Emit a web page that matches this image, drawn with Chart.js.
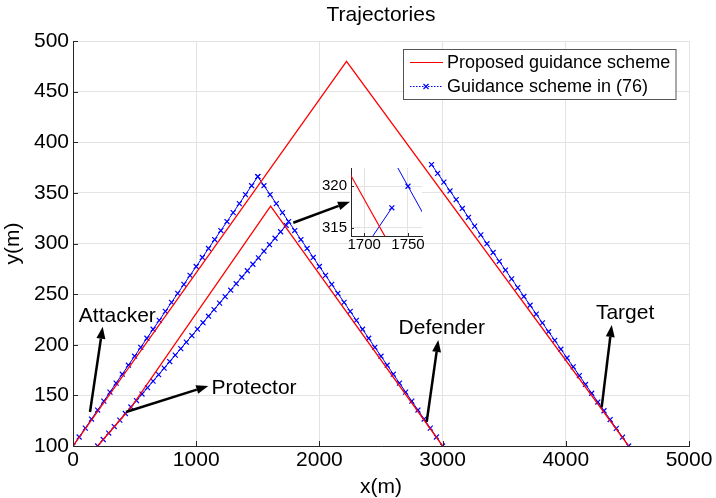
<!DOCTYPE html>
<html>
<head>
<meta charset="utf-8">
<script src="https://cdn.jsdelivr.net/npm/chart.js@4.4.0/dist/chart.umd.min.js"></script>
<style>
html, body { margin: 0; padding: 0; background: #fff; }
#wrap { position: relative; width: 716px; height: 498px; }
#main { position: absolute; left: 0; top: 0; }
#inset { position: absolute; left: 300px; top: 155px; }
</style>
</head>
<body>
<div id="wrap">
<canvas id="main" width="716" height="498"></canvas>
<canvas id="inset" width="130" height="100"></canvas>
</div>
<script>
const FONT = "'Liberation Sans', Arial, sans-serif";

// tick labels
const xTicks = [0, 1000, 2000, 3000, 4000, 5000];
const yTicks = [100, 150, 200, 250, 300, 350, 400, 450, 500];
const insetXTicks = [1700, 1750];
const insetYTicks = [315, 320];

// proposed guidance scheme (red)
const redOuterX = [0, 2220, 4510];
const redOuterY = [100, 480, 100];
const redInnerX = [200, 470, 1604, 3000];
const redInnerY = [100, 138, 337, 100];

// guidance scheme in (76) (blue, x markers)
const attackerX = [0, 50, 100, 150, 200, 250, 300, 350, 400, 450, 500, 550, 600, 650, 700, 750, 800, 850, 900, 950, 1000, 1050, 1100, 1150, 1200, 1250, 1300, 1350, 1400, 1450, 1500];
const attackerY = [100, 108.9, 117.7, 126.6, 135.5, 144.3, 153.2, 162.1, 170.9, 179.8, 188.7, 197.5, 206.4, 215.3, 224.1, 233, 241.9, 250.7, 259.6, 268.5, 277.3, 286.2, 295.1, 303.9, 312.8, 321.7, 330.5, 339.4, 348.3, 357.1, 366];
const defenderX = [1500, 1550, 1600, 1650, 1700, 1750, 1800, 1850, 1900, 1950, 2000, 2050, 2100, 2150, 2200, 2250, 2300, 2350, 2400, 2450, 2500, 2550, 2600, 2650, 2700, 2750, 2800, 2850, 2900, 2950, 3000];
const defenderY = [366, 357.1, 348.3, 339.4, 330.5, 321.7, 312.8, 303.9, 295.1, 286.2, 277.3, 268.5, 259.6, 250.7, 241.9, 233, 224.1, 215.3, 206.4, 197.5, 188.7, 179.8, 170.9, 162.1, 153.2, 144.3, 135.5, 126.6, 117.7, 108.9, 100];
const protectorX = [200, 245, 290, 335, 380, 425, 470, 515, 560, 605, 650, 695, 740, 785, 830, 875, 920, 965, 1010, 1055, 1100, 1145, 1190, 1235, 1280, 1325, 1370, 1415, 1460, 1505, 1550, 1595, 1640, 1685, 1730];
const protectorY = [100, 106.4, 112.8, 119.2, 125.6, 132.1, 138.5, 144.9, 151.3, 157.7, 164.1, 170.5, 176.9, 183.4, 189.8, 196.2, 202.6, 209, 215.4, 221.8, 228.2, 234.7, 241.1, 247.5, 253.9, 260.3, 266.7, 273.1, 279.5, 285.9, 292.4, 298.8, 305.2, 311.6, 318];
const targetX = [2910, 2960, 3010, 3060, 3110, 3160, 3210, 3260, 3310, 3360, 3410, 3460, 3510, 3560, 3610, 3660, 3710, 3760, 3810, 3860, 3910, 3960, 4010, 4060, 4110, 4160, 4210, 4260, 4310, 4360, 4410, 4460, 4510];
const targetY = [378, 369.3, 360.6, 351.9, 343.3, 334.6, 325.9, 317.2, 308.5, 299.8, 291.1, 282.4, 273.8, 265.1, 256.4, 247.7, 239, 230.3, 221.6, 212.9, 204.3, 195.6, 186.9, 178.2, 169.5, 160.8, 152.1, 143.4, 134.8, 126.1, 117.4, 108.7, 100];

// zoomed inset
const insetRedX = [1650, 1760];
const insetRedY = [327.9, 307.1];
const insetProtectorX = [1687, 1731.6];
const insetProtectorY = [310.4, 317.4];
const insetDefenderX = [1705, 1750, 1795];
const insetDefenderY = [328.6, 320, 311.4];

// annotations (data units)
const labels = [
    { text: "Attacker", x: 360, y: 228.4 },
    { text: "Protector", x: 1469, y: 157.3 },
    { text: "Defender", x: 2993, y: 216.2 },
    { text: "Target", x: 4481, y: 231 }
];
const arrows = [
    { from: [138, 133.6], to: [241, 217.8] },
    { from: [430, 133.6], to: [1098, 159.3] },
    { from: [2871, 124], to: [2965, 204.7] },
    { from: [4291, 138.2], to: [4373, 219.5] },
    { from: [1788, 320.5], to: [2248, 341.3] }
];

const RED = "#ff0000";
const BLUE = "#0000ff";

function pts(xs, ys) {
    return xs.map((x, i) => ({ x: x, y: ys[i] }));
}

function redSet(xs, ys, w) {
    return { data: pts(xs, ys), showLine: true, borderColor: RED, borderWidth: w, pointRadius: 0 };
}

function blueSet(xs, ys, w, r) {
    return {
        data: pts(xs, ys), showLine: true, borderColor: BLUE, borderWidth: w,
        pointStyle: "crossRot", pointRadius: r, pointBorderColor: BLUE, pointBorderWidth: 1.2
    };
}

function fixedTicks(values) {
    return scale => { scale.ticks = values.map(v => ({ value: v })); };
}

const plainLabel = v => String(v);

function drawArrow(ctx, x1, y1, x2, y2) {
    const a = Math.atan2(y2 - y1, x2 - x1);
    const len = 12, half = 4.5;
    const bx = x2 - len * Math.cos(a), by = y2 - len * Math.sin(a);
    ctx.beginPath();
    ctx.moveTo(x1, y1);
    ctx.lineTo(bx, by);
    ctx.stroke();
    ctx.beginPath();
    ctx.moveTo(x2, y2);
    ctx.lineTo(bx + half * Math.sin(a), by - half * Math.cos(a));
    ctx.lineTo(bx - half * Math.sin(a), by + half * Math.cos(a));
    ctx.closePath();
    ctx.fill();
}

const inwardTicks = len => ({
    id: "inwardTicks",
    afterDraw(chart) {
        const ctx = chart.ctx, area = chart.chartArea;
        const xs = chart.scales.x, ys = chart.scales.y;
        ctx.save();
        ctx.strokeStyle = "#262626";
        ctx.lineWidth = 1;
        ctx.beginPath();
        xs.ticks.forEach(t => {
            const p = Math.round(xs.getPixelForValue(t.value)) + 0.5;
            ctx.moveTo(p, area.bottom);
            ctx.lineTo(p, area.bottom - len);
        });
        ys.ticks.forEach(t => {
            const p = Math.round(ys.getPixelForValue(t.value)) + 0.5;
            ctx.moveTo(area.left, p);
            ctx.lineTo(area.left + len, p);
        });
        ctx.stroke();
        ctx.restore();
    }
});

const decorations = {
    id: "decorations",
    afterDraw(chart) {
        const ctx = chart.ctx, area = chart.chartArea;
        const xs = chart.scales.x, ys = chart.scales.y;
        ctx.save();

        // title
        ctx.fillStyle = "#000";
        ctx.font = "21px " + FONT;
        ctx.textAlign = "center";
        ctx.textBaseline = "middle";
        ctx.fillText("Trajectories", (area.left + area.right) / 2, 15);

        // arrows
        ctx.strokeStyle = "#000";
        ctx.fillStyle = "#000";
        ctx.lineWidth = 2.5;
        arrows.forEach(a => {
            drawArrow(ctx,
                xs.getPixelForValue(a.from[0]), ys.getPixelForValue(a.from[1]),
                xs.getPixelForValue(a.to[0]), ys.getPixelForValue(a.to[1]));
        });

        // annotation labels
        ctx.font = "21px " + FONT;
        labels.forEach(l => {
            ctx.fillText(l.text, xs.getPixelForValue(l.x), ys.getPixelForValue(l.y));
        });

        // legend
        const bx = 403.5, by = 49.5, bw = 272.5, bh = 50;
        ctx.fillStyle = "#fff";
        ctx.fillRect(bx, by, bw, bh);
        ctx.strokeStyle = "#555";
        ctx.lineWidth = 1;
        ctx.strokeRect(bx, by, bw, bh);

        ctx.strokeStyle = RED;
        ctx.lineWidth = 1.2;
        ctx.beginPath();
        ctx.moveTo(410, 62.5);
        ctx.lineTo(443, 62.5);
        ctx.stroke();

        ctx.strokeStyle = BLUE;
        ctx.setLineDash([1.5, 1.5]);
        ctx.beginPath();
        ctx.moveTo(410, 86.5);
        ctx.lineTo(443, 86.5);
        ctx.stroke();
        ctx.setLineDash([]);
        ctx.lineWidth = 1.2;
        ctx.beginPath();
        ctx.moveTo(423.5, 84);
        ctx.lineTo(428.5, 89);
        ctx.moveTo(428.5, 84);
        ctx.lineTo(423.5, 89);
        ctx.stroke();

        ctx.fillStyle = "#000";
        ctx.font = "18px " + FONT;
        ctx.textAlign = "left";
        ctx.fillText("Proposed guidance scheme", 447, 63);
        ctx.fillText("Guidance scheme in (76)", 447, 87);

        ctx.restore();
    }
};

new Chart(document.getElementById("main"), {
    type: "scatter",
    data: {
        datasets: [
            redSet(redOuterX, redOuterY, 1.3),
            redSet(redInnerX, redInnerY, 1.3),
            blueSet(attackerX, attackerY, 1, 3.5),
            blueSet(defenderX, defenderY, 1, 3.5),
            blueSet(protectorX, protectorY, 1, 3.5),
            blueSet(targetX, targetY, 1, 3.5)
        ]
    },
    options: {
        responsive: false,
        animation: false,
        devicePixelRatio: 1,
        layout: { padding: { top: 41, right: 27, left: 0, bottom: 0 } },
        plugins: { legend: { display: false }, tooltip: { enabled: false } },
        scales: {
            x: {
                type: "linear", min: 0, max: 5000,
                afterBuildTicks: fixedTicks(xTicks),
                afterFit: s => { s.height = 52; },
                grid: { color: "#e3e3e3", drawTicks: false },
                border: { color: "#262626", width: 1 },
                ticks: { color: "#000", font: { family: FONT, size: 21 }, padding: 2, maxRotation: 0, autoSkip: false, callback: plainLabel },
                title: { display: true, text: "x(m)", color: "#000", font: { family: FONT, size: 21, lineHeight: 1 }, padding: { top: 0, bottom: 0 } }
            },
            y: {
                type: "linear", min: 100, max: 500,
                afterBuildTicks: fixedTicks(yTicks),
                afterFit: s => { s.width = 73; },
                grid: { color: "#e3e3e3", drawTicks: false },
                border: { color: "#262626", width: 1 },
                ticks: { color: "#000", font: { family: FONT, size: 21 }, padding: 4, autoSkip: false, callback: plainLabel },
                title: { display: true, text: "y(m)", color: "#000", font: { family: FONT, size: 21, lineHeight: 1 }, padding: { top: 3, bottom: 0 } }
            }
        }
    },
    plugins: [inwardTicks(5), decorations]
});

const insetBackground = {
    id: "insetBackground",
    beforeDraw(chart) {
        const a = chart.chartArea;
        chart.ctx.save();
        chart.ctx.fillStyle = "#fff";
        chart.ctx.fillRect(a.left, a.top, a.right - a.left, a.bottom - a.top);
        chart.ctx.restore();
    }
};

new Chart(document.getElementById("inset"), {
    type: "scatter",
    data: {
        datasets: [
            redSet(insetRedX, insetRedY, 1.2),
            blueSet(insetProtectorX, insetProtectorY, 1, 3.5),
            blueSet(insetDefenderX, insetDefenderY, 1, 3.5)
        ]
    },
    options: {
        responsive: false,
        animation: false,
        devicePixelRatio: 1,
        layout: { padding: { top: 13, right: 8, left: 0, bottom: 0 } },
        plugins: { legend: { display: false }, tooltip: { enabled: false } },
        scales: {
            x: {
                type: "linear", min: 1685, max: 1766,
                afterBuildTicks: fixedTicks(insetXTicks),
                afterFit: s => { s.height = 19; },
                grid: { color: "#e3e3e3", drawTicks: false },
                border: { color: "#262626", width: 1 },
                ticks: { color: "#000", font: { family: FONT, size: 15 }, padding: 0, maxRotation: 0, autoSkip: false, callback: plainLabel }
            },
            y: {
                type: "linear", min: 314, max: 322.2,
                afterBuildTicks: fixedTicks(insetYTicks),
                afterFit: s => { s.width = 51; },
                grid: { color: "#e3e3e3", drawTicks: false },
                border: { color: "#262626", width: 1 },
                ticks: { color: "#000", font: { family: FONT, size: 15 }, padding: 4, autoSkip: false, callback: plainLabel }
            }
        }
    },
    plugins: [insetBackground, inwardTicks(3)]
});
</script>
</body>
</html>
